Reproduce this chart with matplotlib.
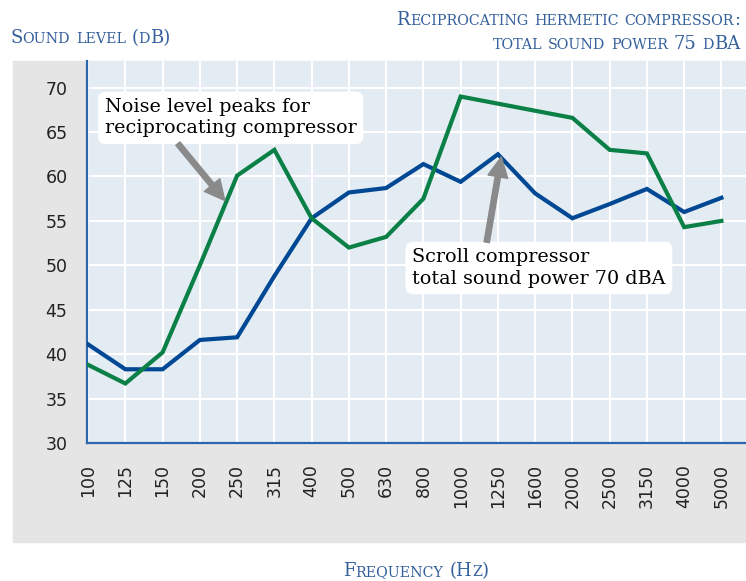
import matplotlib
matplotlib.use("Agg")
import matplotlib.pyplot as plt
import matplotlib.transforms as mtransforms
from matplotlib.patches import Rectangle

# frequences (Hz) et niveaux sonores (dB)
freqs = ["100", "125", "150", "200", "250", "315", "400", "500", "630", "800",
         "1000", "1250", "1600", "2000", "2500", "3150", "4000", "5000"]
scroll = [41.1, 38.3, 38.3, 41.6, 41.9, 48.8, 55.3, 58.2, 58.7, 61.4,
          59.4, 62.5, 58.1, 55.3, 56.9, 58.6, 56.0, 57.6]
recip = [38.8, 36.7, 40.2, 50.0, 60.1, 63.0, 55.3, 52.0, 53.2, 57.5,
         69.0, 68.2, 67.4, 66.6, 63.0, 62.6, 54.3, 55.0]
yticks = [30, 35, 40, 45, 50, 55, 60, 65, 70]

BLUE = "#004894"
GREEN = "#0a8046"
TITLE = "#34609c"
SERIF = "DejaVu Serif"

#+------------------------------------------------------+#

def petites_caps(fig, x, y, s, big, small, ha="left"):
    """texte en petites capitales, x et y en pixels"""
    r = fig.canvas.get_renderer()
    ident = mtransforms.IdentityTransform()
    items = []
    for i, mot in enumerate(s.split(" ")):
        if i > 0:
            items.append((None, big * 0.32 * fig.dpi / 72))
        runs = []
        for ch in mot:
            taille = small if ch.islower() else big
            if runs and runs[-1][1] == taille:
                runs[-1][0] += ch
            else:
                runs.append([ch, taille])
        for txt, taille in runs:
            t = fig.text(0, y, txt.upper(), fontsize=taille, family=SERIF,
                         color=TITLE, transform=ident, va="baseline")
            items.append((t, t.get_window_extent(r).width))
    total = sum(w for _, w in items)
    if ha == "right":
        pos = x - total
    elif ha == "center":
        pos = x - total / 2
    else:
        pos = x
    for t, w in items:
        if t is not None:
            t.set_x(pos)
        pos += w

#+------------------------------------------------------+#

fig = plt.figure(figsize=(7.46, 5.81), dpi=100)
fig.patches.append(Rectangle((0.0174, 0.067), 0.99, 0.828, transform=fig.transFigure,
                             color="#e5e5e5", zorder=-1))

ax = fig.add_axes([0.1166, 0.2375, 0.8834, 0.6575])
ax.set_facecolor("#e3ebf3")
x = list(range(len(freqs)))

ax.plot(x, scroll, color=BLUE, lw=3, zorder=3, solid_joinstyle="miter")
ax.plot(x, recip, color=GREEN, lw=3, zorder=3, solid_joinstyle="miter")

ax.set_xlim(-0.03, 17.66)
ax.set_ylim(30, 73)
ax.set_xticks(x)
ax.set_xticklabels(freqs, rotation=90, fontsize=12.5, color="#222222")
ax.set_yticks(yticks)
ax.set_yticklabels([str(v) for v in yticks], fontsize=12.5, color="#222222")
ax.tick_params(length=0)
ax.tick_params(axis="y", pad=14)
ax.tick_params(axis="x", pad=15)
ax.grid(True, color="white", lw=1.5)
ax.set_axisbelow(True)

for s in ["top", "right"]:
    ax.spines[s].set_visible(False)
for s in ["left", "bottom"]:
    ax.spines[s].set_color("#2c66ad")
    ax.spines[s].set_linewidth(1.6)

# annotations
boite = dict(boxstyle="round,pad=0.35,rounding_size=0.4", fc="white", ec="none")
ax.text(0.45, 66.6, "Noise level peaks for\nreciprocating compressor", family=SERIF,
        fontsize=13.8, va="center", ha="left", bbox=boite, zorder=4, linespacing=1.22)
ax.text(8.7, 49.7, "Scroll compressor\ntotal sound power 70 dBA", family=SERIF,
        fontsize=13.8, va="center", ha="left", bbox=boite, zorder=4, linespacing=1.22)

fleche = dict(arrowstyle="simple,head_length=1.2,head_width=1.2,tail_width=0.32",
              color="#8a8a8a", mutation_scale=12, shrinkA=0, shrinkB=0)
ax.annotate("", xy=(3.67, 57.3), xytext=(2.41, 63.7), arrowprops=fleche, zorder=5)
ax.annotate("", xy=(11.09, 62.2), xytext=(10.7, 52.6), arrowprops=fleche, zorder=5)

# titres en petites capitales (y en pixels depuis le bas)
H = 581
petites_caps(fig, 10, H - 43, "Sound level (dB)", 13, 10.3)
petites_caps(fig, 740, H - 25, "Reciprocating hermetic compressor:", 13, 10.3, ha="right")
petites_caps(fig, 740, H - 49, "total sound power 75 dBA", 13, 10.3, ha="right")
petites_caps(fig, 416, H - 576, "Frequency (Hz)", 13, 10.3, ha="center")

fig.savefig("out.png", dpi=100)
